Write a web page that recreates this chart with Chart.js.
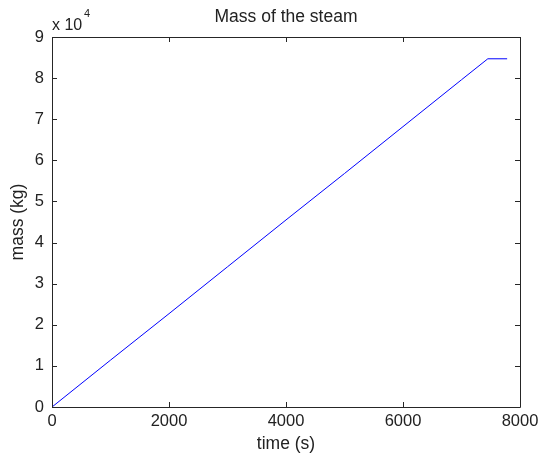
<!DOCTYPE html>
<html>
<head>
<meta charset="utf-8">
<script src="https://cdn.jsdelivr.net/npm/chart.js@4/dist/chart.umd.min.js"></script>
<style>
  html, body { margin: 0; padding: 0; background: #fff; }
  #wrap { width: 539px; height: 457px; }
</style>
</head>
<body>
<div id="wrap"><canvas id="massChart"></canvas></div>
<script>
// time (s) and steam mass (kg)
var timeSec = [0, 1000, 2000, 3000, 4000, 5000, 6000, 7000, 7450, 7780];
var massKg = [0, 11400, 22700, 34100, 45500, 56800, 68200, 79600, 84700, 84700];
var xTicks = [0, 2000, 4000, 6000, 8000];
var yTicks = [0, 10000, 20000, 30000, 40000, 50000, 60000, 70000, 80000, 90000];

var FONT = "'Liberation Sans', Arial, sans-serif";
var AXIS_COLOR = '#262626';

// matlab style box with inward ticks and the "x 10^4" exponent label
var boxPlugin = {
    id: 'matlabBox',
    afterDraw: function(chart) {
        var ctx = chart.ctx;
        var a = chart.chartArea;
        var xs = chart.scales.x, ys = chart.scales.y;
        var len = 5;
        ctx.save();
        ctx.strokeStyle = AXIS_COLOR;
        ctx.lineWidth = 1;
        ctx.beginPath();
        ctx.rect(Math.round(a.left) + 0.5, Math.round(a.top) + 0.5,
                 Math.round(a.right - a.left), Math.round(a.bottom - a.top));
        xTicks.forEach(function(t) {
            var px = Math.round(xs.getPixelForValue(t)) + 0.5;
            ctx.moveTo(px, a.bottom); ctx.lineTo(px, a.bottom - len);
            ctx.moveTo(px, a.top); ctx.lineTo(px, a.top + len);
        });
        yTicks.forEach(function(t) {
            var py = Math.round(ys.getPixelForValue(t)) + 0.5;
            ctx.moveTo(a.left, py); ctx.lineTo(a.left + len, py);
            ctx.moveTo(a.right, py); ctx.lineTo(a.right - len, py);
        });
        ctx.stroke();

        ctx.fillStyle = '#222';
        ctx.textBaseline = 'alphabetic';
        ctx.textAlign = 'left';
        ctx.font = '16px ' + FONT;
        ctx.fillText('x 10', a.left, a.top - 7);
        ctx.font = '11px ' + FONT;
        ctx.fillText('4', a.left + 32, a.top - 20);
        ctx.restore();
    }
};

var ctx = document.getElementById('massChart');
var massChart = new Chart(ctx, {
    type: 'line',
    data: {
        datasets: [{
            label: 'mass',
            data: timeSec.map(function(t, i) { return { x: t, y: massKg[i] }; }),
            borderColor: '#0000ff',
            borderWidth: 1,
            pointRadius: 0,
            tension: 0,
            fill: false
        }]
    },
    options: {
        responsive: true,
        maintainAspectRatio: false,
        animation: false,
        layout: { padding: { top: 0, right: 19, bottom: 0, left: 0 } },
        plugins: {
            legend: { display: false },
            tooltip: { enabled: false },
            title: {
                display: true,
                fullSize: false,
                text: 'Mass of the steam',
                color: '#222',
                font: { family: FONT, size: 17.5, weight: 'normal' },
                padding: { top: 7, bottom: 9 }
            }
        },
        scales: {
            x: {
                type: 'linear',
                min: 0,
                max: 8000,
                afterBuildTicks: function(s) { s.ticks = xTicks.map(function(v) { return { value: v }; }); },
                afterFit: function(s) { s.height = 50; s.paddingLeft = 0; s.paddingRight = 0; },
                grid: { display: false, drawTicks: false },
                border: { display: false },
                ticks: {
                    color: '#222',
                    padding: 5,
                    maxRotation: 0,
                    font: { family: FONT, size: 16.5 },
                    callback: function(v) { return String(v); }
                },
                title: {
                    display: true,
                    text: 'time (s)',
                    color: '#222',
                    font: { family: FONT, size: 17.5 },
                    padding: { top: 0, bottom: 2 }
                }
            },
            y: {
                type: 'linear',
                min: 0,
                max: 90000,
                afterBuildTicks: function(s) { s.ticks = yTicks.map(function(v) { return { value: v }; }); },
                afterFit: function(s) { s.width = 52; s.paddingTop = 0; s.paddingBottom = 0; },
                grid: { display: false, drawTicks: false },
                border: { display: false },
                ticks: {
                    color: '#222',
                    padding: 8,
                    font: { family: FONT, size: 16.5 },
                    callback: function(v) { return String(v / 10000); }
                },
                title: {
                    display: true,
                    text: 'mass (kg)',
                    color: '#222',
                    font: { family: FONT, size: 17.5 },
                    padding: { top: 8, bottom: 0 }
                }
            }
        }
    },
    plugins: [boxPlugin]
});
</script>
</body>
</html>
